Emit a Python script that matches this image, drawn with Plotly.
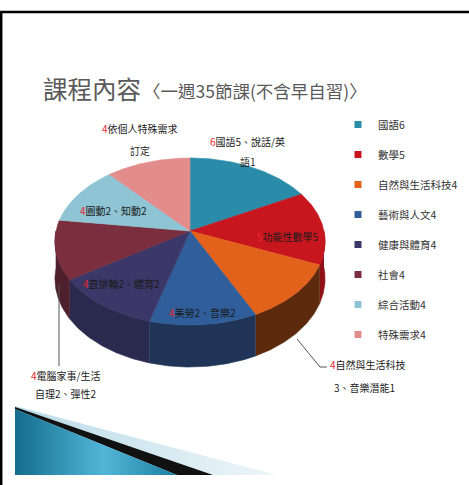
import numpy as np
import plotly.graph_objects as go

# ---------------- data ----------------
title_main = "課程內容"
title_sub = "〈一週35節課(不含早自習)〉"
categories = ["國語", "數學", "自然與生活科技", "藝術與人文", "健康與體育", "社會", "綜合活動", "特殊需求"]
values = [6, 5, 4, 4, 4, 4, 4, 4]
label_lines = [["國語5、說話/英", "語1"], ["功能性數學5"], ["自然與生活科技", "3、音樂潛能1"],
               ["美勞2、音樂2"], ["直排輪2、體育2"], ["電腦家事/生活", "自理2、彈性2"],
               ["園動2、知動2"], ["依個人特殊需求", "訂定"]]

# ---------------- styles / positions ----------------
colors_top = ["#2B8CAA", "#C8161E", "#E2621C", "#2F5E9B", "#3B3768", "#7A2E3E", "#8EC4D4", "#E38C8C"]
colors_side = ["#1C5F73", "#8E1218", "#5E2A0E", "#1F3456", "#2A2A4E", "#4E1F2D", "#5E8C99", "#9C5E5E"]
label_pos = [[(247, 141), (248, 161)], [(288, 236)], [(368, 364), (364, 387)], [(202, 312)],
             [(121, 283)], [(65, 375), (66, 393)], [(113, 210)], [(140, 128), (140, 150)]]

W, H = 469, 485
CX, CY = 190, 231          # apex of the pie (pixels)
A, P, B = 82.2, 0.1258, 134  # projected ellipse parameters
DEPTH = 42
FONT = "Noto Sans CJK TC"


def proj(phi_deg, drop=0.0):
    phi = np.radians(phi_deg)
    u = np.sin(phi)
    v = -np.cos(phi)
    w = 1 - P * v
    x = CX + B * u / w
    y = CY + A * v / w + drop * (1 - P) / w
    return x, y


total = sum(values)
bounds = np.concatenate([[0], np.cumsum(values)]) / total * 360.0

fig = go.Figure()

# side walls (front half only)
for i in range(len(values)):
    lo, hi = max(bounds[i], 90.0), min(bounds[i + 1], 270.0)
    if lo >= hi:
        continue
    ang = np.linspace(lo, hi, 60)
    xt, yt = proj(ang)
    xb, yb = proj(ang[::-1], DEPTH)
    fig.add_trace(go.Scatter(x=np.concatenate([xt, xb]), y=np.concatenate([yt, yb]),
                             fill="toself", fillcolor=colors_side[i], mode="lines",
                             line=dict(width=0.6, color=colors_side[i]),
                             hoverinfo="skip", showlegend=False))

# top faces
for i in range(len(values)):
    ang = np.linspace(bounds[i], bounds[i + 1], 80)
    xa, ya = proj(ang)
    fig.add_trace(go.Scatter(x=np.concatenate([[CX], xa, [CX]]), y=np.concatenate([[CY], ya, [CY]]),
                             fill="toself", fillcolor=colors_top[i], mode="lines",
                             line=dict(width=0.6, color=colors_top[i]),
                             name=f"{categories[i]}{values[i]}",
                             hovertemplate=f"{categories[i]}: {values[i]}<extra></extra>",
                             showlegend=False))

# legend entries
for i in range(len(values)):
    fig.add_trace(go.Scatter(x=[None], y=[None], mode="markers",
                             marker=dict(symbol="square", size=7, color=colors_top[i]),
                             name=f"{categories[i]}{values[i]}", legendgroup=f"g{i}"))

# bottom slide decoration
fig.add_trace(go.Scatter(x=[15, 277, 15, 15], y=[406, 475, 475, 406], fill="toself", mode="lines",
                         line=dict(width=0), fillcolor="#d5e9f1",
                         fillgradient=dict(type="horizontal",
                                           colorscale=[[0, "#b9dbe8"], [1, "#eef6f9"]]),
                         hoverinfo="skip", showlegend=False))
fig.add_trace(go.Scatter(x=[15, 213, 177, 15, 15], y=[407, 475, 475, 409, 407], fill="toself", mode="lines",
                         line=dict(width=0), fillcolor="#111111", hoverinfo="skip", showlegend=False))
fig.add_trace(go.Scatter(x=[15, 177, 15, 15], y=[409, 475, 475, 409], fill="toself", mode="lines",
                         line=dict(width=0), fillcolor="#2a90b5",
                         fillgradient=dict(type="horizontal",
                                           colorscale=[[0, "#146d8c"], [0.55, "#52b6d9"], [1, "#1d7fa2"]]),
                         hoverinfo="skip", showlegend=False))

annotations = []
for i in range(len(values)):
    for j, line in enumerate(label_lines[i]):
        x, y = label_pos[i][j]
        txt = f"<span style='color:#e8262b'>{values[i]}</span>{line}" if j == 0 else line
        annotations.append(dict(x=x, y=y, xref="x", yref="y", showarrow=False, text=txt,
                                font=dict(size=10, family=FONT, color="#1a1a1a"),
                                xanchor="center", yanchor="middle"))
annotations.append(dict(x=41, y=88, xref="x", yref="y", showarrow=False, text=title_main,
                        font=dict(size=24.5, family=FONT, color="#5a5a5a"), xanchor="left", yanchor="middle"))
annotations.append(dict(x=141, y=90, xref="x", yref="y", showarrow=False, text=title_sub,
                        font=dict(size=17.5, family=FONT, color="#5a5a5a"), xanchor="left", yanchor="middle"))

shapes = [
    dict(type="line", x0=0, x1=W, y0=12, y1=12, xref="x", yref="y", line=dict(color="black", width=2.5)),
    dict(type="line", x0=1.2, x1=1.2, y0=12, y1=H, xref="x", yref="y", line=dict(color="black", width=2.5)),
    dict(type="path", path="M 297 339 L 320 367 L 327 367", xref="x", yref="y",
         line=dict(color="#555555", width=1)),
    dict(type="line", x0=59, x1=59, y0=284, y1=366, xref="x", yref="y", line=dict(color="#555555", width=1)),
]

fig.update_layout(
    width=W, height=H, margin=dict(l=0, r=0, t=0, b=0, pad=0, autoexpand=False),
    paper_bgcolor="white", plot_bgcolor="white",
    xaxis=dict(range=[0, W], visible=False, fixedrange=True),
    yaxis=dict(range=[H, 0], visible=False, fixedrange=True),
    showlegend=True,
    legend=dict(x=338 / W, y=1 - 110 / H, xanchor="left", yanchor="top",
                font=dict(size=10.5, family=FONT, color="#333333"),
                tracegroupgap=11, itemwidth=30, bgcolor="rgba(0,0,0,0)"),
    annotations=annotations, shapes=shapes,
)

fig.write_html("out.html", config={"displayModeBar": False},
               post_script="document.body.style.margin='0';document.body.style.overflow='hidden';")
